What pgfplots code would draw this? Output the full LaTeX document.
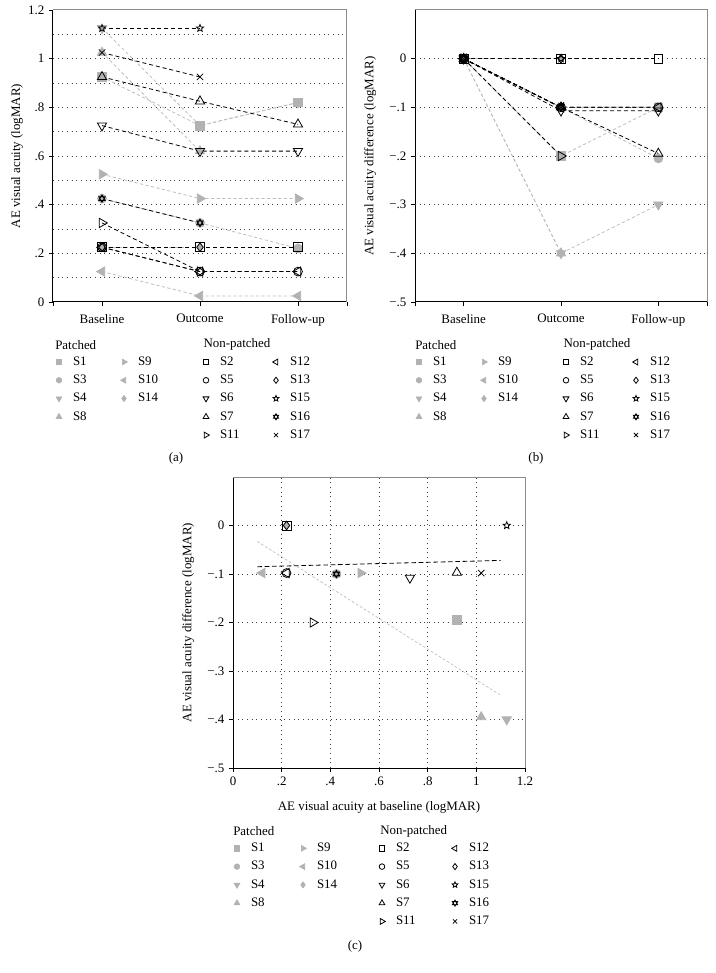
\documentclass[border=0pt]{standalone}
\usepackage{fontspec}
\setmainfont{Liberation Serif}
\usepackage{pgfplots}
\pgfplotsset{compat=1.18}

\definecolor{pg}{gray}{0.70}
\definecolor{pl}{gray}{0.74}
\definecolor{fr}{gray}{0.55}

% open six-pointed star (two triangles)
\pgfdeclareplotmark{hexa}{%
  \pgfpathmoveto{\pgfqpointpolar{90}{\pgfplotmarksize}}%
  \pgfpathlineto{\pgfqpointpolar{210}{\pgfplotmarksize}}%
  \pgfpathlineto{\pgfqpointpolar{330}{\pgfplotmarksize}}%
  \pgfpathclose
  \pgfpathmoveto{\pgfqpointpolar{270}{\pgfplotmarksize}}%
  \pgfpathlineto{\pgfqpointpolar{30}{\pgfplotmarksize}}%
  \pgfpathlineto{\pgfqpointpolar{150}{\pgfplotmarksize}}%
  \pgfpathclose
  \pgfusepathqstroke}
% open five-pointed star
\pgfdeclareplotmark{ostar}{%
  \pgfpathmoveto{\pgfqpointpolar{90}{\pgfplotmarksize}}%
  \pgfpathlineto{\pgfqpointpolar{126}{0.45\pgfplotmarksize}}%
  \pgfpathlineto{\pgfqpointpolar{162}{\pgfplotmarksize}}%
  \pgfpathlineto{\pgfqpointpolar{198}{0.45\pgfplotmarksize}}%
  \pgfpathlineto{\pgfqpointpolar{234}{\pgfplotmarksize}}%
  \pgfpathlineto{\pgfqpointpolar{270}{0.45\pgfplotmarksize}}%
  \pgfpathlineto{\pgfqpointpolar{306}{\pgfplotmarksize}}%
  \pgfpathlineto{\pgfqpointpolar{342}{0.45\pgfplotmarksize}}%
  \pgfpathlineto{\pgfqpointpolar{18}{\pgfplotmarksize}}%
  \pgfpathlineto{\pgfqpointpolar{54}{0.45\pgfplotmarksize}}%
  \pgfpathclose
  \pgfusepathqstroke}

\tikzset{
  pline/.style={color=pl, line width=0.6pt, dash pattern=on 2.4pt off 1.8pt},
  nline/.style={color=black, line width=0.6pt, dash pattern=on 3pt off 2.2pt},
  pmk/.style={solid, fill=pg, draw=pg},
  nmk/.style={solid, draw=black, fill=none, line width=0.6pt},
  s1/.style={pline, mark=square*, mark size=3.3pt, mark options={pmk}},
  s3/.style={pline, mark=*, mark size=3.3pt, mark options={pmk}},
  s4/.style={pline, mark=triangle*, mark size=4pt, mark options={pmk, rotate=180}},
  s8/.style={pline, mark=triangle*, mark size=4pt, mark options={pmk}},
  s9/.style={pline, mark=triangle*, mark size=4pt, mark options={pmk, rotate=-90}},
  s10/.style={pline, mark=triangle*, mark size=4pt, mark options={pmk, rotate=90}},
  s14/.style={pline, mark=diamond*, mark size=3.2pt, mark options={pmk}},
  s2/.style={nline, mark=square, mark size=3.3pt, mark options={nmk}},
  s5/.style={nline, mark=o, mark size=3.3pt, mark options={nmk}},
  s6/.style={nline, mark=triangle, mark size=4pt, mark options={nmk, rotate=180}},
  s7/.style={nline, mark=triangle, mark size=4pt, mark options={nmk}},
  s11/.style={nline, mark=triangle, mark size=4pt, mark options={nmk, rotate=-90}},
  s12/.style={nline, mark=triangle, mark size=4pt, mark options={nmk, rotate=90}},
  s13/.style={nline, mark=diamond, mark size=3.2pt, mark options={nmk}},
  s15/.style={nline, mark=ostar, mark size=2.8pt, mark options={nmk}},
  s16/.style={nline, mark=hexa, mark size=2.8pt, mark options={nmk}},
  s17/.style={nline, mark=x, mark size=3.4pt, mark options={nmk}},
  % legend keys: no dashes at all
  lp/.style={solid, color=pg, line width=0.5pt},
  ln/.style={solid, color=black, line width=0.5pt},
}

\pgfplotsset{
  base/.style={scale only axis, anchor=north west,
    axis x line*=bottom, axis y line*=left,
    axis line style={line width=0.75pt},
    tick align=outside, major tick length=3pt,
    every tick/.style={black, line width=0.6pt},
    font=\fontsize{9.7}{11.6}\selectfont,
    extra tick style={major tick length=0pt, grid=major, xticklabel={}, yticklabel={}},
    grid style={line width=0.7pt, dash pattern=on 0.7pt off 2.8pt, color=black!75},
    extra description/.code={\draw[fr, line width=0.75pt] (0,1) -- (1,1) -- (1,0);},
    clip=false},
  leg/.style 2 args={hide axis, scale only axis, anchor=north west, width=1pt, height=1pt,
    xmin=0, xmax=1, ymin=0, ymax=1, legend columns=2, legend cell align=left,
    legend image code/.code={\path[draw=none, fill=none] (-4pt,-2pt) rectangle (4pt,2pt);
      \draw[##1] plot[only marks] coordinates {(0pt,0pt)};},
    legend style={at={(0,1)}, anchor=north west, draw=none, fill=none,
      inner sep=0pt, outer sep=0pt, column sep=0pt, row sep=0pt,
      font=\fontsize{9.7}{11.6}\selectfont,
      nodes={inner xsep=#2, inner ysep=0pt, minimum height=13.7pt, text width=#1, align=left}}},
}

\newcommand{\patlegend}{%
  \addlegendimage{lp, mark=square*, mark size=2pt, mark options={pmk}}\addlegendentry{S1}
  \addlegendimage{lp, mark=triangle*, mark size=2.5pt, mark options={pmk, rotate=-90}}\addlegendentry{S9}
  \addlegendimage{lp, mark=*, mark size=2.1pt, mark options={pmk}}\addlegendentry{S3}
  \addlegendimage{lp, mark=triangle*, mark size=2.5pt, mark options={pmk, rotate=90}}\addlegendentry{S10}
  \addlegendimage{lp, mark=triangle*, mark size=2.5pt, mark options={pmk, rotate=180}}\addlegendentry{S4}
  \addlegendimage{lp, mark=diamond*, mark size=2.3pt, mark options={pmk}}\addlegendentry{S14}
  \addlegendimage{lp, mark=triangle*, mark size=2.5pt, mark options={pmk}}\addlegendentry{S8}}
\newcommand{\nonlegend}{%
  \addlegendimage{ln, mark=square, mark size=2pt, mark options={nmk}}\addlegendentry{S2}
  \addlegendimage{ln, mark=triangle, mark size=2.5pt, mark options={nmk, rotate=90}}\addlegendentry{S12}
  \addlegendimage{ln, mark=o, mark size=2.1pt, mark options={nmk}}\addlegendentry{S5}
  \addlegendimage{ln, mark=diamond, mark size=2.3pt, mark options={nmk}}\addlegendentry{S13}
  \addlegendimage{ln, mark=triangle, mark size=2.5pt, mark options={nmk, rotate=180}}\addlegendentry{S6}
  \addlegendimage{ln, mark=ostar, mark size=2.3pt, mark options={nmk}}\addlegendentry{S15}
  \addlegendimage{ln, mark=triangle, mark size=2.5pt, mark options={nmk}}\addlegendentry{S7}
  \addlegendimage{ln, mark=hexa, mark size=2.3pt, mark options={nmk}}\addlegendentry{S16}
  \addlegendimage{ln, mark=triangle, mark size=2.5pt, mark options={nmk, rotate=-90}}\addlegendentry{S11}
  \addlegendimage{ln, mark=x, mark size=2.2pt, mark options={nmk}}\addlegendentry{S17}}

\begin{document}
\begin{tikzpicture}[font=\fontsize{9.7}{11.6}\selectfont]
\useasboundingbox (0,0) rectangle (537pt,-729.75pt);

% ---------- (a) visual acuity ----------
\begin{axis}[base, at={(39.75pt,-7.5pt)}, width=220.5pt, height=219pt,
    xmin=0.5, xmax=3.5, ymin=0, ymax=1.2,
    xtick={0.5,1,2,3,3.5}, xticklabels={,Baseline,Outcome,Follow-up,},
    xticklabel style={yshift=-2.5pt},
    ytick={0,0.2,0.4,0.6,0.8,1,1.2}, yticklabels={0,.2,.4,.6,.8,1,1.2},
    extra y ticks={0.1,0.2,0.3,0.4,0.5,0.6,0.7,0.8,0.9,1.0,1.1},
    ylabel={AE visual acuity (logMAR)}, ylabel shift=-6pt]
  \addplot[s1] coordinates {(1,0.925) (2,0.725) (3,0.82)};
  \addplot[s3] coordinates {(1,0.425) (2,0.325) (3,0.22)};
  \addplot[s4] coordinates {(1,1.125) (2,0.725) (3,0.82)};
  \addplot[s8] coordinates {(1,1.025) (2,0.62)};
  \addplot[s9] coordinates {(1,0.525) (2,0.425) (3,0.425)};
  \addplot[s10] coordinates {(1,0.125) (2,0.025) (3,0.025)};
  \addplot[s14] coordinates {(1,0.225) (2,0.225)};
  \addplot[s2] coordinates {(1,0.225) (2,0.225) (3,0.225)};
  \addplot[s5] coordinates {(1,0.225) (2,0.125) (3,0.125)};
  \addplot[s6] coordinates {(1,0.725) (2,0.62) (3,0.62)};
  \addplot[s7] coordinates {(1,0.925) (2,0.825) (3,0.73)};
  \addplot[s11] coordinates {(1,0.325) (2,0.125)};
  \addplot[s12] coordinates {(1,0.225) (2,0.125) (3,0.125)};
  \addplot[s13] coordinates {(1,0.225) (2,0.225)};
  \addplot[s15] coordinates {(1,1.125) (2,1.125)};
  \addplot[s16] coordinates {(1,0.425) (2,0.325)};
  \addplot[s17] coordinates {(1,1.025) (2,0.925)};
\end{axis}

% ---------- (b) difference ----------
\begin{axis}[base, at={(311.25pt,-7.5pt)}, width=219pt, height=219pt,
    xmin=0.5, xmax=3.5, ymin=-0.5, ymax=0.1,
    xtick={0.5,1,2,3,3.5}, xticklabels={,Baseline,Outcome,Follow-up,},
    xticklabel style={yshift=-2.5pt},
    ytick={-0.5,-0.4,-0.3,-0.2,-0.1,0}, yticklabels={−.5,−.4,−.3,−.2,−.1,0},
    extra y ticks={-0.4,-0.3,-0.2,-0.1,0},
    ylabel={AE visual acuity difference (logMAR)}]
  \addplot[s1] coordinates {(1,0) (2,-0.2) (3,-0.1)};
  \addplot[s3] coordinates {(1,0) (2,-0.1) (3,-0.205)};
  \addplot[s4] coordinates {(1,0) (2,-0.4) (3,-0.3)};
  \addplot[s8] coordinates {(1,0) (2,-0.4)};
  \addplot[s9] coordinates {(1,0) (2,-0.1) (3,-0.1)};
  \addplot[s10] coordinates {(1,0) (2,-0.1) (3,-0.1)};
  \addplot[s14] coordinates {(1,0) (2,0)};
  \addplot[s2] coordinates {(1,0) (2,0) (3,0)};
  \addplot[s5] coordinates {(1,0) (2,-0.1) (3,-0.1)};
  \addplot[s6] coordinates {(1,0) (2,-0.107) (3,-0.107)};
  \addplot[s7] coordinates {(1,0) (2,-0.1) (3,-0.195)};
  \addplot[s11] coordinates {(1,0) (2,-0.2)};
  \addplot[s12] coordinates {(1,0) (2,-0.1) (3,-0.1)};
  \addplot[s13] coordinates {(1,0) (2,0)};
  \addplot[s15] coordinates {(1,0) (2,0)};
  \addplot[s16] coordinates {(1,0) (2,-0.1)};
  \addplot[s17] coordinates {(1,0) (2,-0.1)};
\end{axis}

% ---------- (c) difference vs baseline ----------
\begin{axis}[base, at={(174.75pt,-357.75pt)}, width=219pt, height=218.25pt,
    xmin=0, xmax=1.2, ymin=-0.5, ymax=0.1,
    xtick={0,0.2,0.4,0.6,0.8,1,1.2}, xticklabels={0,.2,.4,.6,.8,1,1.2},
    ytick={-0.5,-0.4,-0.3,-0.2,-0.1,0}, yticklabels={−.5,−.4,−.3,−.2,−.1,0},
    extra x ticks={0.2,0.4,0.6,0.8,1.0},
    extra y ticks={-0.4,-0.3,-0.2,-0.1,0},
    xlabel={AE visual acuity at baseline (logMAR)}, xlabel shift=2.5pt,
    ylabel={AE visual acuity difference (logMAR)}]
  \addplot[color=pl, line width=0.5pt, dash pattern=on 2pt off 1.5pt] coordinates {(0.1,-0.033) (1.1,-0.35)};
  \addplot[black, line width=0.6pt, dash pattern=on 3.5pt off 2pt] coordinates {(0.1,-0.085) (1.1,-0.072)};
  \addplot[s1, only marks] coordinates {(0.92,-0.195)};
  \addplot[s3, only marks] coordinates {(0.425,-0.1)};
  \addplot[s4, only marks] coordinates {(1.125,-0.4)};
  \addplot[s8, only marks] coordinates {(1.02,-0.395)};
  \addplot[s9, only marks] coordinates {(0.525,-0.098)};
  \addplot[s10, only marks] coordinates {(0.12,-0.098)};
  \addplot[s14, only marks] coordinates {(0.22,0)};
  \addplot[s2, only marks] coordinates {(0.22,0)};
  \addplot[s5, only marks] coordinates {(0.22,-0.098)};
  \addplot[s6, only marks] coordinates {(0.727,-0.108)};
  \addplot[s7, only marks] coordinates {(0.92,-0.097)};
  \addplot[s11, only marks] coordinates {(0.328,-0.2)};
  \addplot[s12, only marks] coordinates {(0.22,-0.098)};
  \addplot[s13, only marks] coordinates {(0.22,0)};
  \addplot[s15, only marks] coordinates {(1.125,0)};
  \addplot[s16, only marks] coordinates {(0.425,-0.1)};
  \addplot[s17, only marks] coordinates {(1.02,-0.098)};
\end{axis}

% ---------- legends ----------
\begin{axis}[leg={27.75pt}{6.5pt}, at={(40.25pt,-264.65pt)}] \patlegend \end{axis}
\begin{axis}[leg={31.5pt}{6.5pt}, at={(150.5pt,-264.65pt)}] \nonlegend \end{axis}
\begin{axis}[leg={27.75pt}{6.5pt}, at={(310.25pt,-264.65pt)}] \patlegend \end{axis}
\begin{axis}[leg={31.5pt}{6.5pt}, at={(420.5pt,-264.65pt)}] \nonlegend \end{axis}
\begin{axis}[leg={28.5pt}{6.5pt}, at={(173.75pt,-629.4pt)}] \patlegend \end{axis}
\begin{axis}[leg={33.75pt}{6.5pt}, at={(282.5pt,-629.4pt)}] \nonlegend \end{axis}

\node[anchor=west, inner sep=0pt] at (41.25pt,-258.5pt) {Patched};
\node[anchor=west, inner sep=0pt] at (152.5pt,-258.5pt) {Non-patched};
\node[anchor=west, inner sep=0pt] at (311.25pt,-258.5pt) {Patched};
\node[anchor=west, inner sep=0pt] at (422.5pt,-258.5pt) {Non-patched};
\node[anchor=west, inner sep=0pt] at (174.75pt,-623.25pt) {Patched};
\node[anchor=west, inner sep=0pt] at (285pt,-623.25pt) {Non-patched};

\node at (132pt,-343.5pt) {(a)};
\node at (402pt,-343.5pt) {(b)};
\node at (266.25pt,-709.5pt) {(c)};
\end{tikzpicture}
\end{document}
